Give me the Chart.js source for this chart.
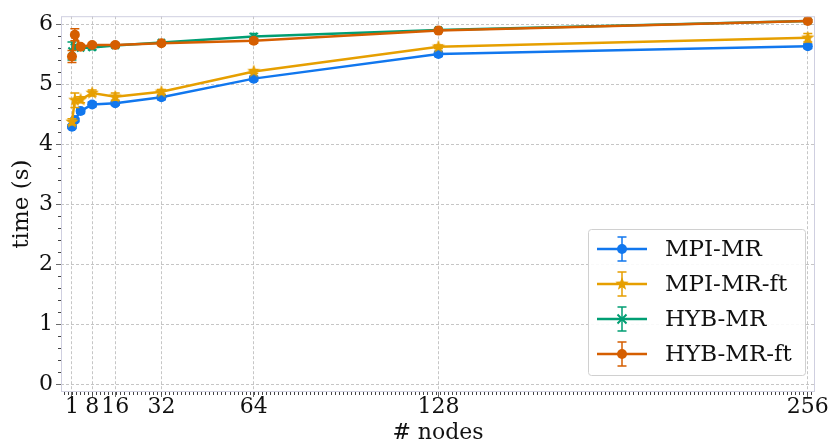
<!DOCTYPE html>
<html>
<head>
<meta charset="utf-8">
<script src="https://cdn.jsdelivr.net/npm/chart.js@4"></script>
<style>
  html, body { margin: 0; padding: 0; background: #fff; }
  #wrap { width: 829px; height: 444px; position: relative; }
</style>
</head>
<body>
<div id="wrap"><canvas id="chart" width="829" height="444"></canvas></div>
<script>
// node counts and timings
const nodes = [1, 2, 4, 8, 16, 32, 64, 128, 256];
const xTicks = [1, 8, 16, 32, 64, 128, 256];
const yTicks = [0, 1, 2, 3, 4, 5, 6];

const mpiMr     = [4.29, 4.40, 4.55, 4.66, 4.68, 4.78, 5.09, 5.50, 5.63];
const mpiMrErr  = [0.03, 0.03, 0.04, 0.04, 0.03, 0.04, 0.04, 0.04, 0.04];
const mpiFt     = [4.37, 4.73, 4.74, 4.85, 4.79, 4.87, 5.21, 5.62, 5.77];
const mpiFtErr  = [0.05, 0.12, 0.05, 0.05, 0.06, 0.04, 0.03, 0.03, 0.07];
const hybMr     = [5.55, 5.62, 5.60, 5.61, 5.64, 5.69, 5.79, 5.90, 6.05];
const hybMrErr  = [0.15, 0.04, 0.03, 0.04, 0.03, 0.02, 0.05, 0.03, 0.02];
const hybFt     = [5.46, 5.82, 5.62, 5.65, 5.65, 5.68, 5.72, 5.89, 6.05];
const hybFtErr  = [0.10, 0.10, 0.03, 0.03, 0.03, 0.02, 0.04, 0.02, 0.02];

const BLUE = '#1177ee', YELLOW = '#e69f00', GREEN = '#009e73', ORANGE = '#d55e00';
const FONT = "'DejaVu Serif', serif";

function starImage(color, r) {
  const c = document.createElement('canvas');
  c.width = c.height = r * 2 + 2;
  const g = c.getContext('2d');
  g.beginPath();
  for (let i = 0; i < 10; i++) {
    const rad = i % 2 ? r * 0.42 : r;
    const a = -Math.PI / 2 + i * Math.PI / 5;
    g.lineTo(r + 1 + rad * Math.cos(a), r + 1 + rad * Math.sin(a));
  }
  g.closePath();
  g.fillStyle = color;
  g.fill();
  return c;
}
const star = starImage(YELLOW, 7);

function pts(vals) {
  return vals.map((v, i) => ({ x: nodes[i], y: v }));
}

const series = [
  { label: 'MPI-MR', data: pts(mpiMr), errors: mpiMrErr, color: BLUE, style: 'circle' },
  { label: 'MPI-MR-ft', data: pts(mpiFt), errors: mpiFtErr, color: YELLOW, style: star },
  { label: 'HYB-MR', data: pts(hybMr), errors: hybMrErr, color: GREEN, style: 'crossRot' },
  { label: 'HYB-MR-ft', data: pts(hybFt), errors: hybFtErr, color: ORANGE, style: 'circle' }
];

function drawErr(ctx, x, top, bot, cap) {
  ctx.beginPath();
  ctx.moveTo(x, top); ctx.lineTo(x, bot);
  ctx.moveTo(x - cap, top); ctx.lineTo(x + cap, top);
  ctx.moveTo(x - cap, bot); ctx.lineTo(x + cap, bot);
  ctx.stroke();
}

function drawMarker(ctx, s, x, y) {
  ctx.save();
  ctx.fillStyle = s.color;
  ctx.strokeStyle = s.color;
  if (s.style === 'circle') {
    ctx.beginPath(); ctx.arc(x, y, 5, 0, Math.PI * 2); ctx.fill();
  } else if (s.style === 'crossRot') {
    ctx.lineWidth = 2;
    ctx.beginPath();
    ctx.moveTo(x - 4.5, y - 4.5); ctx.lineTo(x + 4.5, y + 4.5);
    ctx.moveTo(x - 4.5, y + 4.5); ctx.lineTo(x + 4.5, y - 4.5);
    ctx.stroke();
  } else {
    ctx.drawImage(s.style, x - s.style.width / 2, y - s.style.height / 2);
  }
  ctx.restore();
}

const errorBars = {
  id: 'errorBars',
  afterDatasetDraw(chart, args) {
    const ds = chart.data.datasets[args.index];
    if (!ds.errors) return;
    const ctx = chart.ctx, xs = chart.scales.x, ys = chart.scales.y;
    ctx.save();
    ctx.strokeStyle = ds.borderColor;
    ctx.lineWidth = 1.5;
    ds.data.forEach((p, i) => {
      const px = xs.getPixelForValue(p.x);
      drawErr(ctx, px, ys.getPixelForValue(p.y + ds.errors[i]), ys.getPixelForValue(p.y - ds.errors[i]), 4.5);
    });
    ctx.restore();
  }
};

const frameAndTicks = {
  id: 'frameAndTicks',
  afterDraw(chart) {
    const ctx = chart.ctx, a = chart.chartArea, xs = chart.scales.x, ys = chart.scales.y;
    ctx.save();
    ctx.strokeStyle = '#cfcfe0';
    ctx.lineWidth = 1;
    ctx.strokeRect(a.left + 0.5, a.top + 0.5, a.right - a.left - 1, a.bottom - a.top - 1);
    ctx.strokeStyle = '#444';
    ctx.lineWidth = 1;
    ctx.beginPath();
    // minor ticks
    for (let v = 1 - 1.4 * 2; v <= xs.max; v += 1.4) {
      if (v < xs.min) continue;
      const px = Math.round(xs.getPixelForValue(v)) + 0.5;
      ctx.moveTo(px, a.bottom); ctx.lineTo(px, a.bottom + 3);
    }
    for (let k = 0; k <= 30; k++) {
      const v = k * 0.2;
      if (k % 5 === 0 || v > ys.max) continue;
      const py = Math.round(ys.getPixelForValue(v)) + 0.5;
      ctx.moveTo(a.left, py); ctx.lineTo(a.left - 3, py);
    }
    ctx.stroke();
    ctx.restore();

    // legend
    const lx = 588, ly = 229, lw = 217, lh = 146;
    ctx.save();
    ctx.fillStyle = 'rgba(255,255,255,0.9)';
    ctx.strokeStyle = '#d0d0d0';
    ctx.lineWidth = 1;
    ctx.beginPath();
    ctx.roundRect(lx + 0.5, ly + 0.5, lw, lh, 3);
    ctx.fill(); ctx.stroke();
    ctx.font = "23px " + FONT;
    ctx.textBaseline = 'middle';
    series.forEach((s, i) => {
      const cy = ly + 20 + i * 35;
      ctx.strokeStyle = s.color;
      ctx.lineWidth = 2.5;
      ctx.beginPath(); ctx.moveTo(597, cy); ctx.lineTo(647, cy); ctx.stroke();
      ctx.lineWidth = 1.5;
      drawErr(ctx, 622, cy - 12, cy + 12, 4.5);
      drawMarker(ctx, s, 622, cy);
      ctx.fillStyle = '#111';
      ctx.fillText(s.label, 665, cy + 1);
    });
    ctx.restore();
  }
};

new Chart(document.getElementById('chart'), {
  type: 'line',
  data: {
    datasets: series.map((s, i) => ({
      label: s.label,
      data: s.data,
      errors: s.errors,
      borderColor: s.color,
      backgroundColor: s.color,
      borderWidth: 2.5,
      pointStyle: s.style,
      pointRadius: 5,
      pointBorderWidth: s.style === 'crossRot' ? 2 : 0,
      fill: false,
      tension: 0,
      order: 3 - i
    }))
  },
  options: {
    responsive: false,
    animation: false,
    events: [],
    layout: { padding: { left: 0, top: 12, right: 14, bottom: 0 } },
    plugins: { legend: { display: false }, tooltip: { enabled: false } },
    scales: {
      x: {
        type: 'linear',
        min: -2.8,
        max: 258.5,
        afterBuildTicks: ax => { ax.ticks = xTicks.map(v => ({ value: v })); },
        afterFit: ax => { ax.height = 52; },
        grid: { color: '#b8b8b8', lineWidth: 0.8, tickColor: '#444', tickLength: 5, tickBorderDash: [] },
        border: { display: false, dash: [3, 2] },
        ticks: { color: '#111', font: { family: FONT, size: 22 }, padding: -3, maxRotation: 0, autoSkip: false },
        title: { display: true, text: '# nodes', color: '#111', font: { family: FONT, size: 22 }, padding: { top: 0, bottom: -2 } }
      },
      y: {
        type: 'linear',
        min: -0.13,
        max: 6.13,
        afterBuildTicks: ax => { ax.ticks = yTicks.map(v => ({ value: v })); },
        afterFit: ax => { ax.width = 61; },
        grid: { color: '#b8b8b8', lineWidth: 0.8, tickColor: '#444', tickLength: 5, tickBorderDash: [] },
        border: { display: false, dash: [3, 2] },
        ticks: { color: '#111', font: { family: FONT, size: 22 }, padding: 3 },
        title: { display: true, text: 'time (s)', color: '#111', font: { family: FONT, size: 23 }, padding: { top: 8, bottom: 0 } }
      }
    }
  },
  plugins: [errorBars, frameAndTicks]
});
</script>
</body>
</html>
